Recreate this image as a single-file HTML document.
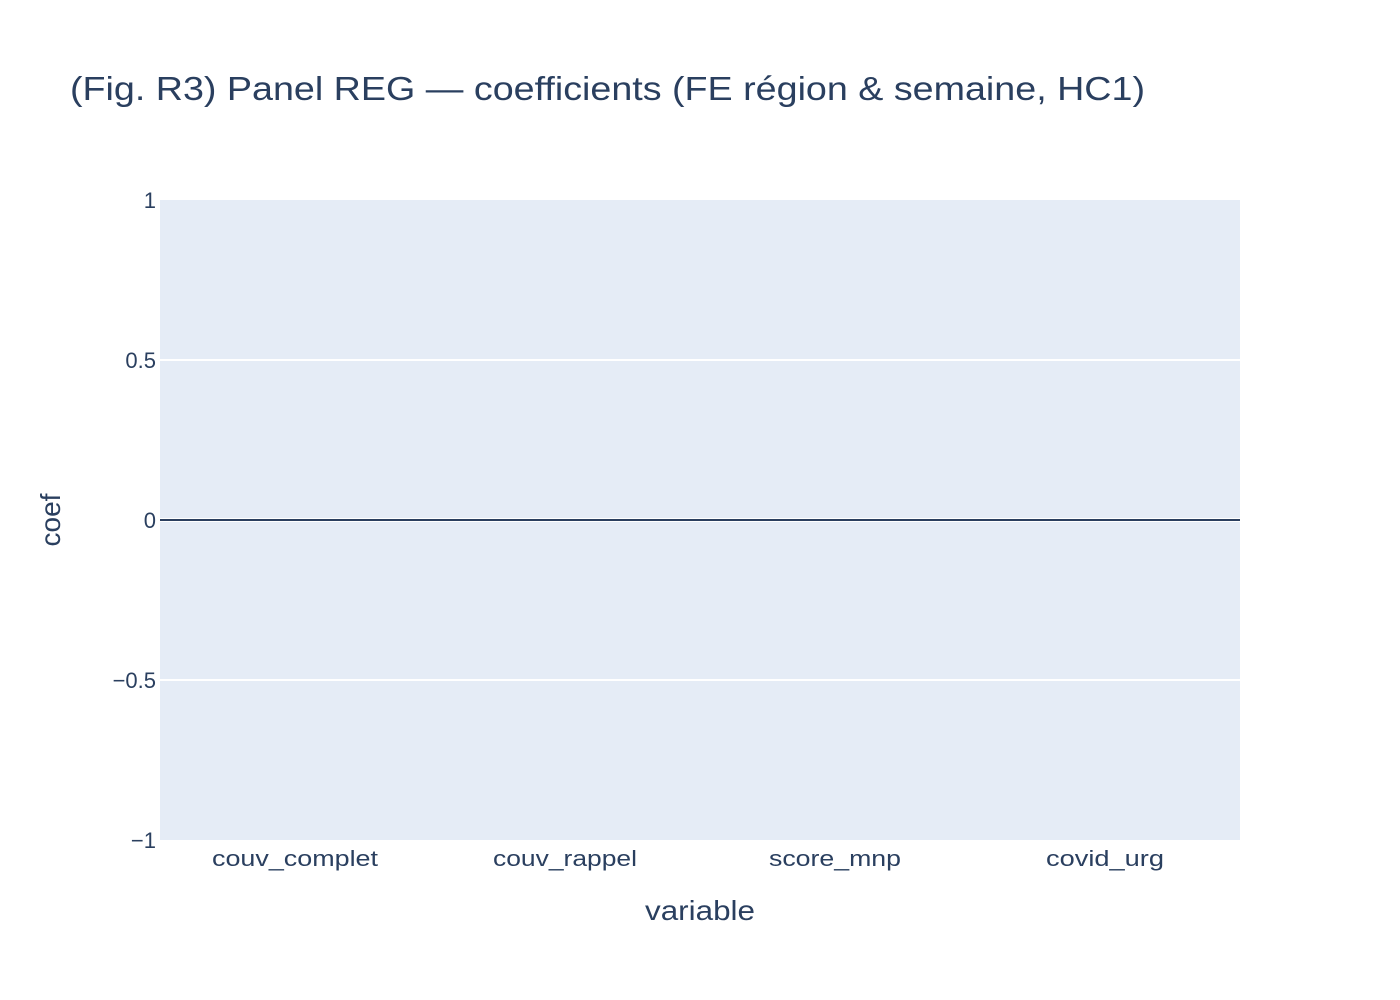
<!DOCTYPE html>
<html><head><meta charset="utf-8">
<style>
html,body{margin:0;padding:0;background:#fff;}
svg{display:block;font-family:"Liberation Sans",Arial,sans-serif;}
</style></head>
<body>
<svg id="chart" width="1400" height="1000">
  <rect x="0" y="0" width="1400" height="1000" fill="#fff"/>
  <text x="70" y="100" font-size="33" fill="#2a3f5f" textLength="1075" lengthAdjust="spacingAndGlyphs">(Fig. R3) Panel REG — coefficients (FE région &amp; semaine, HC1)</text>
  <rect x="160" y="200" width="1080" height="640" fill="#e5ecf6"/>
  <g id="grid"></g>
  <g id="bars"></g>
  <g id="yticks"></g>
  <g id="xticks"></g>
  <text x="645" y="920" font-size="28" fill="#2a3f5f" textLength="110" lengthAdjust="spacingAndGlyphs">variable</text>
  <text transform="translate(60,520) rotate(-90)" font-size="28" fill="#2a3f5f" text-anchor="middle">coef</text>
</svg>
<script>
const categories = ["couv_complet","couv_rappel","score_mnp","covid_urg"];
const values = [0,0,0,0];
const yTickValues = [1,0.5,0,-0.5,-1];
const yTickLabels = ["1","0.5","0","\u22120.5","\u22121"];
const xLabelWidths = [166,144,132,118];

const NS="http://www.w3.org/2000/svg";
const x0=160,x1=1240,y0=200,y1=840,yMin=-1,yMax=1;
function yScale(v){return y1-(v-yMin)/(yMax-yMin)*(y1-y0);}
const band=(x1-x0)/categories.length;
function xCenter(i){return x0+band*(i+0.5);}
function mk(tag,attrs,parent){const e=document.createElementNS(NS,tag);for(const k in attrs)e.setAttribute(k,attrs[k]);parent.appendChild(e);return e;}

const grid=document.getElementById('grid');
yTickValues.forEach((v,i)=>{
  const y=yScale(v);
  if(v!==0&&v!==1&&v!==-1){
    const l=mk('line',{x1:x0,x2:x1,y1:y,y2:y,stroke:'#fff','stroke-width':2},grid);
    
    
  }
  const t=mk('text',{x:156,y:y+8,'font-size':22,fill:'#2a3f5f','text-anchor':'end'},document.getElementById('yticks'));
  t.textContent=yTickLabels[i];
  
  
});
const bars=document.getElementById('bars');
values.forEach((v,i)=>{
  const w=band*0.8;
  const ya=yScale(Math.max(v,0)),yb=yScale(Math.min(v,0));
  const r=mk('rect',{x:xCenter(i)-w/2,y:ya,width:w,height:Math.max(0,yb-ya),fill:'#636efa'},bars);
  
  
  const lw=xLabelWidths[i];
  const t=mk('text',{x:xCenter(i)-lw/2,y:866,'font-size':22,fill:'#2a3f5f',textLength:lw,lengthAdjust:'spacingAndGlyphs'},document.getElementById('xticks'));
  t.textContent=categories[i];
  
  
});
const z=yScale(0);
const zl=mk('line',{x1:x0,x2:x1,y1:z,y2:z,stroke:'#fff','stroke-width':4},grid);


const zl2=mk('line',{x1:x0,x2:x1,y1:z,y2:z,stroke:'#2a3f5f','stroke-width':2},document.getElementById('chart'));


</script>
</body></html>
